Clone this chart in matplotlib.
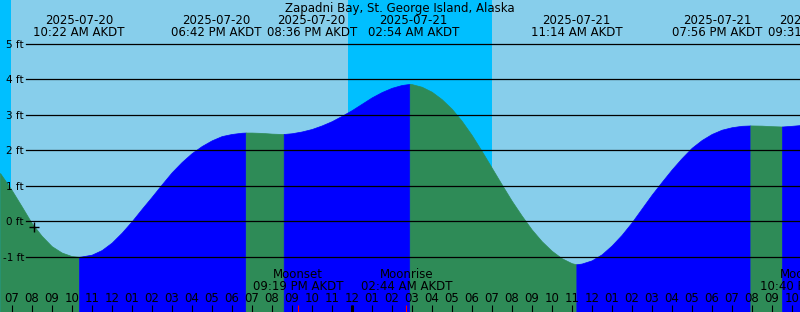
import matplotlib
matplotlib.use('Agg')
import matplotlib.pyplot as plt
from matplotlib.transforms import blended_transform_factory, offset_copy

# times are hours after 2025-07-20 00:00 AKDT
t_start = 6.415
t_span = 40.0

tide_t = [6.415, 6.5, 7, 7.5, 8, 8.5, 9, 9.5, 10, 10.367, 10.5, 11, 11.5, 12,
          12.5, 13, 13.5, 14, 14.5, 15, 15.5, 16, 16.5, 17, 17.5, 18, 18.5,
          18.7, 19, 19.5, 20, 20.5, 20.6, 21, 21.5, 22, 22.5, 23, 23.5, 24,
          24.5, 25, 25.5, 26, 26.5, 26.9, 27, 27.5, 28, 28.5, 29, 29.5, 30,
          30.5, 31, 31.5, 32, 32.5, 33, 33.5, 34, 34.5, 35, 35.233, 35.5, 36,
          36.5, 37, 37.5, 38, 38.5, 39, 39.5, 40, 40.5, 41, 41.5, 42, 42.5,
          43, 43.5, 43.933, 44, 44.5, 45, 45.517, 46, 46.415]
tide_ft = [1.36, 1.29, 0.88, 0.42, -0.05, -0.41, -0.70, -0.88, -0.98, -1.00,
           -0.99, -0.94, -0.81, -0.60, -0.32, 0.00, 0.35, 0.69, 1.04, 1.38,
           1.67, 1.92, 2.12, 2.28, 2.40, 2.46, 2.495, 2.50, 2.50, 2.49, 2.47,
           2.46, 2.46, 2.48, 2.53, 2.60, 2.70, 2.82, 2.97, 3.13, 3.31, 3.49,
           3.64, 3.76, 3.84, 3.87, 3.865, 3.79, 3.65, 3.44, 3.17, 2.83, 2.43,
           1.98, 1.51, 1.04, 0.58, 0.16, -0.23, -0.56, -0.83, -1.04, -1.18,
           -1.21, -1.19, -1.10, -0.93, -0.68, -0.38, -0.03, 0.36, 0.75, 1.11,
           1.46, 1.78, 2.07, 2.29, 2.46, 2.58, 2.65, 2.69, 2.70, 2.70, 2.695,
           2.68, 2.67, 2.69, 2.71]

ext_t = [10.367, 18.7, 20.6, 26.9, 35.233, 43.933, 45.517]
ext_date = ['2025-07-20', '2025-07-20', '2025-07-20', '2025-07-21',
            '2025-07-21', '2025-07-21', '2025-07-21']
ext_time = ['10:22 AM AKDT', '06:42 PM AKDT', '08:36 PM AKDT', '02:54 AM AKDT',
            '11:14 AM AKDT', '07:56 PM AKDT', '09:31 PM AKDT']
ext_shift = [0, -29, 28, 4, 0, -33, 31]   # label nudges, px

night_from = [5.0, 23.815]
night_to = [6.965, 31.015]

moon_t = [21.317, 26.733, 46.667]
moon_name = ['Moonset', 'Moonrise', 'Moonset']
moon_time = ['09:19 PM AKDT', '02:44 AM AKDT', '10:40 PM AKDT']

now_t = 8.13
now_ft = -0.15

ft_levels = [-1, 0, 1, 2, 3, 4, 5]
hours = list(range(7, 47))
hour_labels = ['%02d' % ((h - 1) % 12 + 1) for h in hours]

title = 'Zapadni Bay, St. George Island, Alaska'

sky = '#87CEEB'
night = '#00BFFF'
flood = '#0000FF'
ebb = '#2E8B57'

W, H = 800, 312
plt.rcParams['font.family'] = 'DejaVu Sans'
fig = plt.figure(figsize=(W / 100, H / 100), dpi=100)
ax = fig.add_axes([0, 0, 1, 1])
ax.set_xlim(t_start, t_start + t_span)
ax.set_ylim(-2.555, 6.234)
ax.set_facecolor(sky)
for s in ax.spines.values():
    s.set_visible(False)
ax.set_xticks([])
ax.set_yticks([])

def py(p):
    return 1 - p / H

bx = blended_transform_factory(ax.transData, ax.transAxes)
by = blended_transform_factory(ax.transAxes, ax.transData)

for a, b in zip(night_from, night_to):
    ax.axvspan(a, b, color=night, lw=0)

edges = [t_start] + ext_t + [t_start + t_span]
for i in range(len(edges) - 1):
    idx = [k for k in range(len(tide_t)) if edges[i] <= tide_t[k] <= edges[i + 1]]
    tt = [tide_t[k] for k in idx]
    hh = [tide_ft[k] for k in idx]
    col = flood if hh[-1] > hh[0] else ebb
    ax.fill_between(tt, hh, -3, color=col, lw=0.5, ec=col)

for v in ft_levels:
    ax.axhline(v, xmin=26 / W, color='black', lw=0.9)
    ax.text(24 / W, v, '%d ft' % v, transform=offset_copy(by, fig, y=-4, units='dots'),
            ha='right', va='baseline', fontsize=7.5)

ax.plot(now_t, now_ft, marker='+', color='black', ms=7, mew=1)

ax.text(0.5, py(11.7), title, transform=ax.transAxes, ha='center', va='baseline', fontsize=8.5)
for t, d, tm, dx in zip(ext_t, ext_date, ext_time, ext_shift):
    tr = offset_copy(bx, fig, x=dx, units='dots')
    ax.text(t, py(24), d, transform=tr, ha='center', va='baseline', fontsize=8.5)
    ax.text(t, py(36), tm, transform=tr, ha='center', va='baseline', fontsize=8.5)

for h, lab in zip(hours, hour_labels):
    ax.text(h, py(301.7), lab, transform=bx, ha='center', va='baseline', fontsize=8.5)
ax.vlines(hours, 0, 7 / H, transform=bx, color='black', lw=0.8)
ax.vlines([24], 0, 7 / H, transform=bx, color='black', lw=2.2)

for t, n, tm in zip(moon_t, moon_name, moon_time):
    ax.text(t, py(278), n, transform=bx, ha='center', va='baseline', fontsize=8.5)
    ax.text(t, py(290), tm, transform=bx, ha='center', va='baseline', fontsize=8.5)
ax.vlines(moon_t, 0, 7 / H, transform=bx, color='red', lw=0.8)

fig.savefig('out.png', dpi=100)
